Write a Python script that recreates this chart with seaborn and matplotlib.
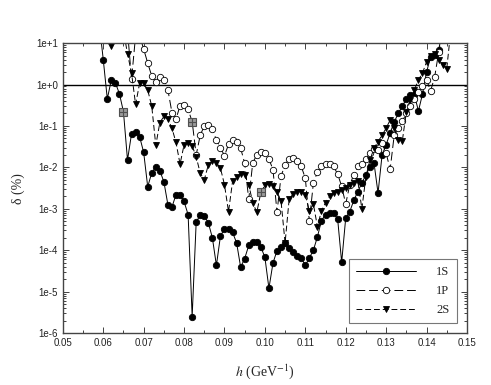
import numpy as np
import pandas as pd
import matplotlib
matplotlib.use("Agg")
import matplotlib.pyplot as plt
import seaborn as sns
from matplotlib.ticker import MultipleLocator, LogLocator, FuncFormatter, NullFormatter

# step h (GeV^-1), 0.059 .. 0.146
h = np.round(np.arange(0.059, 0.1465, 0.001), 3)
nan = np.nan

delta_1s = [30, 4.0, 0.45, 1.3, 1.1, 0.6, 0.22, 0.015, 0.065, 0.07,
            0.055, 0.023, 0.0034, 0.0074, 0.0102, 0.0083, 0.0045, 0.00125, 0.0011, 0.0022,
            0.0022, 0.0015, 0.00072, 2.5e-6, 0.00049, 0.00069, 0.00067, 0.00046, 0.0002, 4.3e-5,
            0.00022, 0.00033, 0.00033, 0.00027, 0.00015, 3.9e-5, 6.3e-5, 0.00013, 0.00016, 0.00016,
            0.00012, 6.7e-5, 1.2e-5, 4.9e-5, 9.8e-5, 0.00012, 0.00015, 0.00011, 9.1e-5, 7.1e-5,
            6.5e-5, 4.3e-5, 6.5e-5, 0.0001, 0.00021, 0.00052, 0.00072, 0.00079, 0.00079, 0.00057,
            5.1e-5, 0.0006, 0.00085, 0.0016, 0.0026, 0.0042, 0.0066, 0.0103, 0.0128, 0.0024,
            0.020, 0.035, 0.068, 0.125, 0.2, 0.30, 0.45, 0.56, 0.56, 0.23,
            0.59, 2.0, 4.6, 5.1, 7.0, 20, nan, nan]

delta_1p = [nan, nan, nan, nan, nan, nan, nan, 20, 1.35, 15,
            15, 7.2, 3.3, 1.6, 1.17, 1.5, 1.28, 0.74, 0.21, 0.145,
            0.31, 0.32, 0.25, 0.127, 0.02, 0.06, 0.1, 0.105, 0.083, 0.046,
            0.03, 0.019, 0.036, 0.046, 0.042, 0.029, 0.0126, 0.0017, 0.013, 0.02,
            0.023, 0.022, 0.016, 0.0088, 0.00082, 0.0062, 0.0115, 0.016, 0.0166, 0.014,
            0.0105, 0.0055, 0.0005, 0.0042, 0.0077, 0.0105, 0.012, 0.012, 0.0105, 0.0069,
            0.0035, 0.0013, 0.0038, 0.0066, 0.0105, 0.012, 0.016, 0.022, 0.028, 0.026,
            0.038, 0.022, 0.009, 0.06, 0.09, 0.13, 0.2, 0.3, 0.45, 0.65,
            0.9, 1.3, 0.7, 1.5, 6.0, 20, nan, nan]

delta_2s = [nan, nan, 20, 8.5, 20, 20, 20, 5.5, 1.9, 0.33,
            1.07, 1.07, 0.74, 0.30, 0.034, 0.12, 0.17, 0.145, 0.088, 0.04,
            0.012, 0.035, 0.038, 0.033, 0.018, 0.0072, 0.005, 0.0115, 0.014, 0.013,
            0.0096, 0.0038, 0.00085, 0.0046, 0.006, 0.0069, 0.0066, 0.0038, 0.0014, 0.00082,
            0.0025, 0.0037, 0.004, 0.0036, 0.0026, 0.0015, 0.00015, 0.0017, 0.0023, 0.0026,
            0.0026, 0.0021, 0.0009, 0.0013, 0.00037, 0.0009, 0.0014, 0.002, 0.0024, 0.0025,
            0.0029, 0.0032, 0.0038, 0.0042, 0.0046, 0.001, 0.006, 0.015, 0.029, 0.042,
            0.06, 0.088, 0.14, 0.09, 0.045, 0.043, 0.22, 0.42, 0.75, 1.3,
            1.9, 3.5, 4.9, 5.5, 4.0, 3.0, 2.4, 20]

# marked (optimal) points
h_mark = [0.065, 0.082, 0.099]
delta_mark = [0.22, 0.127, 0.0025]

series = {"1S": delta_1s, "1P": delta_1p, "2S": delta_2s}

sns.set_style("ticks")
plt.rcParams["font.family"] = ["Liberation Sans", "DejaVu Sans"]
plt.rcParams["mathtext.fontset"] = "stix"

fig = plt.figure(figsize=(4.91, 3.85), dpi=100)
ax = fig.add_axes([0.128, 0.135, 0.823, 0.753])

styles = {
    "1S": dict(marker="o", mfc="black", ms=4.6, dashes=None),
    "1P": dict(marker="o", mfc="white", ms=4.6, dashes=(9, 4)),
    "2S": dict(marker="v", mfc="black", ms=5.0, dashes=(6, 3)),
}

for name, vals in series.items():
    df = pd.DataFrame({"h": h, "delta": vals}).dropna()
    st = styles[name]
    sns.lineplot(data=df, x="h", y="delta", ax=ax, estimator=None, sort=False,
                 color="black", lw=0.7, marker=st["marker"], markersize=st["ms"],
                 markerfacecolor=st["mfc"], markeredgecolor="black",
                 markeredgewidth=0.6, label=name)
    if st["dashes"] is not None:
        ax.lines[-1].set_dashes(st["dashes"])

ax.plot(h_mark, delta_mark, ls="none", marker="s", ms=6, mfc="#9a9a9a",
        mec="#505050", mew=0.8, zorder=5)
ax.plot(h_mark, delta_mark, ls="none", marker="+", ms=6, mec="#505050",
        mew=0.8, zorder=6)

ax.axhline(1.0, color="black", lw=1.0, zorder=1)

ax.set_yscale("log")
ax.set_xlim(0.05, 0.15)
ax.set_ylim(1e-6, 10)

ax.xaxis.set_major_locator(MultipleLocator(0.01))
ax.xaxis.set_minor_locator(MultipleLocator(0.005))
ax.xaxis.set_major_formatter(FuncFormatter(lambda v, p: f"{v:.2f}"))
ax.yaxis.set_major_locator(LogLocator(base=10, numticks=20))
ax.yaxis.set_minor_locator(LogLocator(base=10, subs=np.arange(2, 10), numticks=20))
ax.yaxis.set_minor_formatter(NullFormatter())
ax.yaxis.set_major_formatter(FuncFormatter(
    lambda v, p: "1e{:+d}".format(int(round(np.log10(v))))))

ax.tick_params(which="both", direction="in", top=True, right=True,
               labelsize=7, colors="#222222", width=0.6)
ax.tick_params(which="major", length=4)
ax.tick_params(which="minor", length=2)
for sp in ax.spines.values():
    sp.set_color("#444444")
    sp.set_linewidth(1.0)

ax.set_xlabel("$h$ (GeV$^{-1}$)", family="Liberation Serif", fontsize=10, labelpad=10)
ax.set_ylabel("δ (%)", family="Liberation Serif", fontsize=10, labelpad=8)

leg = ax.legend(loc="lower right", bbox_to_anchor=(0.985, 0.02), frameon=True,
                fancybox=False, edgecolor="#555555", handlelength=4.8,
                prop={"family": "Liberation Serif", "size": 9},
                borderpad=0.6, labelspacing=0.55, handletextpad=1.6,
                borderaxespad=0.3)
leg.get_frame().set_linewidth(0.8)

fig.savefig("out.png", dpi=100)
